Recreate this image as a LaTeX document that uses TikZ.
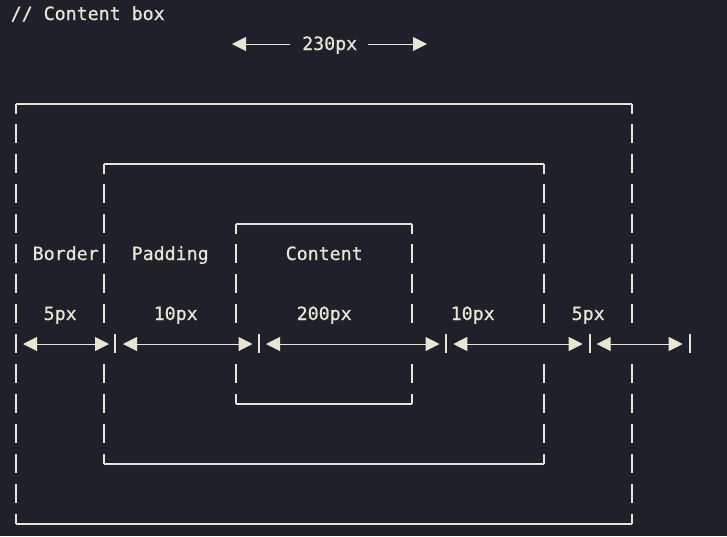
\documentclass[tikz,border=0pt]{standalone}
\usepackage{fontspec}
\newfontfamily\dimmono[FakeBold=0.6]{DejaVu Sans Mono}
\usetikzlibrary{arrows.meta}
\definecolor{bg}{RGB}{31,33,42}
\definecolor{fg}{RGB}{234,230,212}
\begin{document}
\begin{tikzpicture}[x=1pt,y=-1pt,
  vbar/.style={draw=fg, line width=2pt},
  hline/.style={draw=fg, line width=1.2pt},
  lbl/.style={text=fg, font=\dimmono\fontsize{18.27}{22}\selectfont, anchor=base west, inner sep=0pt},
  tipL/.style={draw=fg, line width=1pt, {Triangle[length=14pt,width=14pt,fg]}-},
  tipR/.style={draw=fg, line width=1pt, -{Triangle[length=14pt,width=14pt,fg]}},
  dimarrow/.style={draw=fg, line width=1pt, {Triangle[length=14pt,width=14pt,fg]}-{Triangle[length=14pt,width=14pt,fg]}}
]
\fill[bg] (0,0) rectangle (727,536);
\useasboundingbox (0,0) rectangle (727,536);

% titles
\node[lbl] (title) at (10.5,20) {// Content box};
\node[lbl] (w230) at (302,50) {230px};
\coordinate (w230l) at (232,44);
\coordinate (w230lt) at (290,44);
\coordinate (w230rt) at (368,44);
\coordinate (w230r) at (427,44);
\draw[tipL] (w230l) -- (w230lt);
\draw[tipR] (w230rt) -- (w230r);

% box outlines: top and bottom edges with corner ticks
% outer (rows 3 and 17)
\coordinate (oTL) at (16,104);  \coordinate (oTR) at (632,104);
\coordinate (oBL) at (16,524);  \coordinate (oBR) at (632,524);
% padding (rows 5 and 15)
\coordinate (pTL) at (104,164); \coordinate (pTR) at (544,164);
\coordinate (pBL) at (104,464); \coordinate (pBR) at (544,464);
% content (rows 7 and 13)
\coordinate (cTL) at (236,224); \coordinate (cTR) at (412,224);
\coordinate (cBL) at (236,404); \coordinate (cBR) at (412,404);

\foreach \a/\b in {oTL/oTR, pTL/pTR, cTL/cTR}{
  \draw[hline] (\a) -- (\b);
  \draw[vbar] (\a) -- ++(0,10);
  \draw[vbar] (\b) -- ++(0,10);
}
\foreach \a/\b in {oBL/oBR, pBL/pBR, cBL/cBR}{
  \draw[hline] (\a) -- (\b);
  \draw[vbar] (\a) -- ++(0,-10);
  \draw[vbar] (\b) -- ++(0,-10);
}

% vertical bar characters, row by row
\foreach \k in {4,5,15,16}{
  \foreach \x in {16,632}{
    \draw[vbar] (\x,{14+30*\k-10}) -- (\x,{14+30*\k+9});
  }
}
\foreach \k in {6,7,13,14}{
  \foreach \x in {16,104,544,632}{
    \draw[vbar] (\x,{14+30*\k-10}) -- (\x,{14+30*\k+9});
  }
}
\foreach \k in {8,9,10,12}{
  \foreach \x in {16,104,236,412,544,632}{
    \draw[vbar] (\x,{14+30*\k-10}) -- (\x,{14+30*\k+9});
  }
}
% arrow row bars
\foreach \x in {16,115,258.5,446,589.5,689.5}{
  \draw[vbar] (\x,334) -- (\x,353);
}

% labels
\node[lbl] (lborder)  at (32.5,260)  {Border};
\node[lbl] (lpadding) at (131.5,260) {Padding};
\node[lbl] (lcontent) at (285.5,260) {Content};
\node[lbl] (v5a)   at (43.5,320)  {5px};
\node[lbl] (v10a)  at (153.5,320) {10px};
\node[lbl] (v200)  at (296.5,320) {200px};
\node[lbl] (v10b)  at (450.5,320) {10px};
\node[lbl] (v5b)   at (571.5,320) {5px};

% dimension arrows
\coordinate (a1) at (23,344);    \coordinate (b1) at (109,344);
\coordinate (a2) at (123,344);   \coordinate (b2) at (252.5,344);
\coordinate (a3) at (266,344);   \coordinate (b3) at (439.5,344);
\coordinate (a4) at (453.3,344); \coordinate (b4) at (582.7,344);
\coordinate (a5) at (596.7,344); \coordinate (b5) at (682.7,344);
\foreach \i in {1,...,5}{
  \draw[dimarrow] (a\i) -- (b\i);
}
\end{tikzpicture}
\end{document}
